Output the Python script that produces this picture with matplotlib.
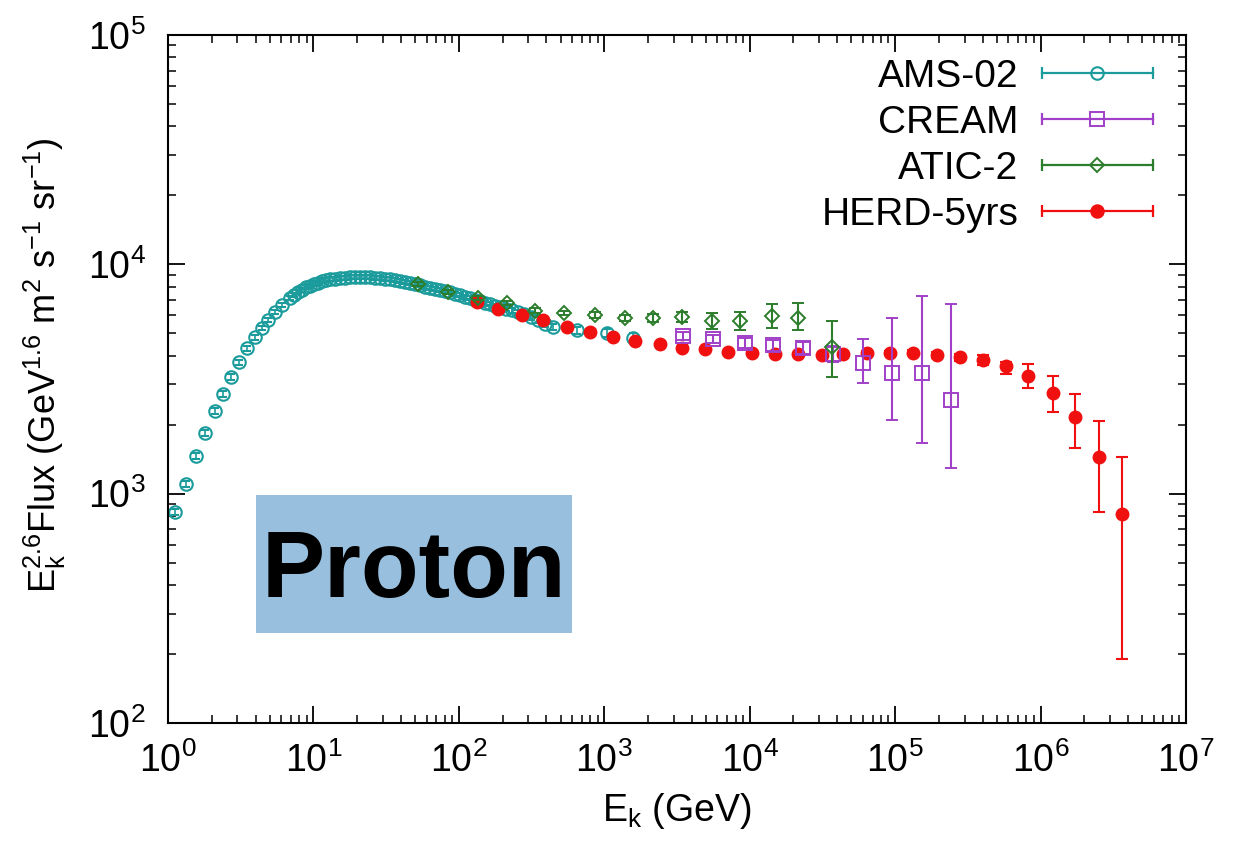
import numpy as np
import matplotlib.pyplot as plt
from matplotlib.legend_handler import HandlerBase
from matplotlib.lines import Line2D
from matplotlib.patches import Rectangle

plt.rcParams['font.family'] = ['Liberation Sans', 'DejaVu Sans']
plt.rcParams['mathtext.fontset'] = 'custom'
plt.rcParams['mathtext.rm'] = 'Liberation Sans'
plt.rcParams['mathtext.it'] = 'Liberation Sans:italic'
plt.rcParams['mathtext.default'] = 'regular'

# ---- data (E in GeV, E^2.6 * flux) ----
ams_e = [1.12, 1.33, 1.56, 1.80, 2.10, 2.39, 2.71, 3.08, 3.49, 3.97,
         4.43, 4.87, 5.44, 6.08, 6.90, 7.36, 7.84, 8.35, 8.89, 9.48,
         10.1, 10.8, 11.5, 12.2, 13.0, 14.1, 15.2, 16.5, 17.9, 19.3,
         20.9, 22.6, 24.5, 26.5, 28.7, 31.1, 33.6, 36.4, 39.4, 42.7,
         46.2, 50.0, 54.1, 58.6, 63.4, 68.6, 74.3, 80.4, 87.0, 94.2,
         102, 110, 119, 129, 140, 151, 164, 177, 192, 211,
         232, 255, 281, 314, 350, 392, 445, 650, 1046, 1578]
ams_flux = [832, 1102, 1459, 1838, 2291, 2718, 3225, 3749, 4315, 4819,
            5275, 5716, 6194, 6644, 7129, 7346, 7570, 7765, 7962, 8081,
            8205, 8330, 8456, 8542, 8627, 8672, 8715, 8760, 8803, 8803,
            8803, 8803, 8803, 8760, 8715, 8672, 8627, 8542, 8456, 8370,
            8287, 8205, 8122, 8001, 7880, 7803, 7724, 7648, 7570, 7458,
            7346, 7237, 7129, 7022, 6918, 6814, 6713, 6612, 6514, 6416,
            6320, 6194, 6072, 5891, 5716, 5519, 5329, 5170, 5016, 4770]
ams_relerr = [0.03, 0.03, 0.03, 0.03, 0.03, 0.03, 0.03, 0.025, 0.025, 0.025,
              0.02, 0.02, 0.02, 0.02, 0.02, 0.02, 0.02, 0.02, 0.02, 0.02,
              0.02, 0.02, 0.02, 0.02, 0.02, 0.02, 0.02, 0.02, 0.02, 0.02,
              0.02, 0.02, 0.02, 0.02, 0.02, 0.02, 0.02, 0.02, 0.02, 0.02,
              0.02, 0.02, 0.02, 0.02, 0.02, 0.02, 0.02, 0.02, 0.02, 0.02,
              0.02, 0.02, 0.02, 0.02, 0.02, 0.02, 0.02, 0.02, 0.02, 0.02,
              0.025, 0.025, 0.025, 0.025, 0.03, 0.03, 0.03, 0.035, 0.04, 0.05]

cream_e = [3483, 5603, 9299, 14490, 23300, 37470, 60260, 95370, 153400, 242800]
cream_flux = [4867, 4722, 4537, 4447, 4315, 4062, 3712, 3356, 3356, 2560]
cream_lo = [4680, 4520, 4330, 4200, 4060, 3750, 3036, 2094, 1663, 1293]
cream_hi = [5060, 4930, 4750, 4700, 4580, 4400, 4722, 5832, 7274, 6713]

atic_e = [52.4, 84.3, 136, 215, 334, 529, 864, 1390, 2166, 3429,
          5514, 8590, 14260, 21530, 36870]
atic_flux = [8205, 7570, 7129, 6780, 6288, 6132, 6010, 5832, 5832, 5890,
             5658, 5658, 5950, 5832, 4359]
atic_lo = [8040, 7420, 6980, 6640, 6150, 5990, 5850, 5640, 5600, 5580,
           5222, 5170, 5275, 5170, 3225]
atic_hi = [8370, 7720, 7280, 6920, 6430, 6280, 6170, 6030, 6070, 6210,
           6132, 6194, 6713, 6780, 5658]

herd_e = [133, 186, 272, 379, 555, 799, 1149, 1629, 2420, 3429,
          4934, 7102, 10390, 14950, 21530, 31480, 43890, 64180, 92400, 133000,
          194500, 280000, 403000, 580000, 822000, 1221000, 1730000, 2530000, 3640000]
herd_flux = [6850, 6380, 6010, 5720, 5330, 5070, 4820, 4630, 4490, 4320,
             4270, 4150, 4110, 4060, 4060, 4020, 4060, 4110, 4110, 4110,
             4020, 3940, 3830, 3600, 3260, 2750, 2160, 1440, 815]
herd_lo = [6800, 6330, 5960, 5670, 5290, 5030, 4780, 4590, 4450, 4280,
           4230, 4110, 4070, 4020, 4010, 3970, 4000, 4040, 4030, 4010,
           3900, 3800, 3650, 3323, 2887, 2269, 1581, 832, 190]
herd_hi = [6900, 6430, 6060, 5770, 5370, 5110, 4860, 4670, 4530, 4360,
           4310, 4190, 4150, 4100, 4110, 4070, 4120, 4180, 4190, 4210,
           4140, 4080, 4010, 3749, 3675, 3256, 2718, 2073, 1444]

c_ams = '#1b9b9b'
c_cream = '#a040c8'
c_atic = '#2c7d2c'
c_herd = '#f01010'


def yerr(v, lo, hi):
    v, lo, hi = np.array(v), np.array(lo), np.array(hi)
    return [v - lo, hi - v]


class HandlerBar(HandlerBase):
    # gnuplot-like key: line with caps at both ends and the point in the middle
    def create_artists(self, legend, orig, xdescent, ydescent, width, height, fontsize, trans):
        y = height / 2 - ydescent
        x0, x1 = -xdescent, width - xdescent
        col = orig.get_color()
        line = Line2D([x0, x1], [y, y], color=col, lw=1.6)
        caps = Line2D([x0, x1], [y, y], ls='none', marker='|', ms=9, mew=1.6, color=col)
        pt = Line2D([(x0 + x1) / 2], [y], ls='none', marker=orig.get_marker(),
                    ms=orig.get_markersize(), mfc=orig.get_markerfacecolor(),
                    mec=col, mew=orig.get_markeredgewidth())
        for a in (line, caps, pt):
            a.set_transform(trans)
        return [line, caps, pt]


fig = plt.figure(figsize=(12.53, 8.41), dpi=100)
ax = fig.add_axes([0.1341, 0.1403, 0.8124, 0.8181])

ams_f = np.array(ams_flux)
ax.errorbar(ams_e, ams_f, yerr=ams_f * np.array(ams_relerr), fmt='o', ms=9, mfc='none',
            mec=c_ams, mew=1.5, color=c_ams, elinewidth=1.2, capsize=3, capthick=1.2, zorder=2)
ax.errorbar(herd_e, herd_flux, yerr=yerr(herd_flux, herd_lo, herd_hi), fmt='o', ms=9,
            color=c_herd, mec=c_herd, elinewidth=1.5, capsize=4, capthick=1.5, zorder=3)
ax.errorbar(cream_e, cream_flux, yerr=yerr(cream_flux, cream_lo, cream_hi), fmt='s', ms=10,
            mfc='none', mec=c_cream, mew=1.4, color=c_cream, elinewidth=1.5, capsize=4,
            capthick=1.5, zorder=4)
ax.errorbar(atic_e, atic_flux, yerr=yerr(atic_flux, atic_lo, atic_hi), fmt='D', ms=7,
            mfc='none', mec=c_atic, mew=1.4, color=c_atic, elinewidth=1.5, capsize=4,
            capthick=1.5, zorder=5)

ax.set_xscale('log')
ax.set_yscale('log')
ax.set_xlim(1, 1e7)
ax.set_ylim(100, 1e5)

ax.tick_params(which='both', direction='in', top=True, right=True, colors='black')
ax.tick_params(which='major', length=12, width=1.3, labelsize=27)
ax.tick_params(which='minor', length=6, width=1.1)
ax.tick_params(axis='x', which='major', pad=14)
ax.tick_params(axis='y', which='major', pad=16)
for s in ax.spines.values():
    s.set_linewidth(1.5)

ax.set_xlabel('E$_k$ (GeV)', fontsize=27, labelpad=8)
ax.set_ylabel('E$_k^{2.6}$Flux (GeV$^{1.6}$ m$^2$ s$^{-1}$ sr$^{-1}$)', fontsize=26, labelpad=8)
ax.yaxis.set_label_coords(-0.098, 0.52)

# Proton tag
ax.add_patch(Rectangle((0.0864, 0.1308), 0.3104, 0.2006, transform=ax.transAxes,
                       facecolor='#98c0de', edgecolor='none', zorder=1))
ax.text(0.2411, 0.1831, 'Proton', transform=ax.transAxes, ha='center', va='baseline',
        fontsize=68, fontweight='bold', color='black', zorder=6)

handles = [
    Line2D([], [], color=c_ams, marker='o', ms=9, mfc='none', mew=1.5),
    Line2D([], [], color=c_cream, marker='s', ms=10, mfc='none', mew=1.4),
    Line2D([], [], color=c_atic, marker='D', ms=7, mfc='none', mew=1.4),
    Line2D([], [], color=c_herd, marker='o', ms=9, mfc=c_herd, mew=1.4),
]
labels = ['AMS-02', 'CREAM', 'ATIC-2', 'HERD-5yrs']
ax.legend(handles, labels, handler_map={Line2D: HandlerBar()}, loc='upper right',
          bbox_to_anchor=(0.994, 1.005), markerfirst=False, frameon=False, fontsize=28,
          handlelength=2.85, handletextpad=0.6, labelspacing=0.26, borderpad=0.2)

fig.savefig('out.png', dpi=100)
